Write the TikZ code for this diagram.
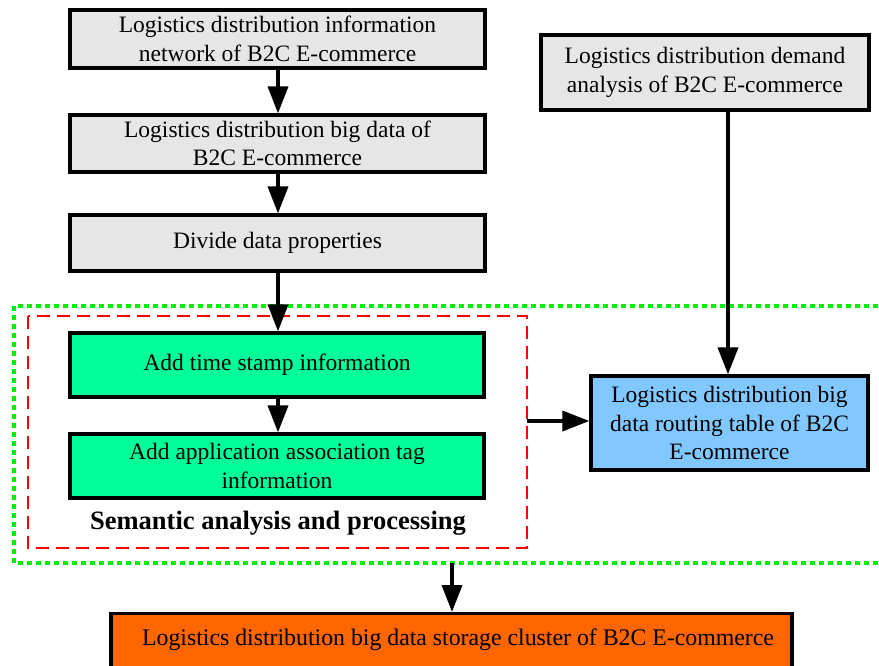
\documentclass[tikz,border=0pt]{standalone}
\usepackage{fontspec}
\setmainfont{Liberation Serif}
\usetikzlibrary{arrows.meta}
\definecolor{boxgray}{HTML}{E6E6E6}
\definecolor{boxgreen}{HTML}{00FF99}
\definecolor{boxblue}{HTML}{80C8FF}
\definecolor{boxorange}{HTML}{FF6600}
\definecolor{dotgreen}{HTML}{00EE00}
\tikzset{
  box/.style={draw=black, line width=3.2pt, align=center, inner sep=0pt,
    font=\fontsize{23.5}{28.5}\selectfont},
  conn/.style={line width=3.6pt, -{Triangle[length=27pt,width=20pt]}},
  redframe/.style={draw=red, line width=1.6pt, dash pattern=on 13pt off 7pt},
  greenframe/.style={draw=dotgreen, line width=3.2pt, dash pattern=on 5pt off 4pt},
}
\begin{document}
\begin{tikzpicture}[x=1pt,y=-1pt]
\useasboundingbox (0,0) rectangle (879,666);
\fill[white] (0,0) rectangle (879,666);
% frames
\draw[greenframe] (14,306) rectangle (900,563);
\draw[redframe] (28,316) rectangle (527,548);
\coordinate (redE) at (527,421);
\coordinate (grnS) at (452,563);
% boxes
\node[box, fill=boxgray, minimum width=415pt, minimum height=58pt] (n1) at (277.5,39) {Logistics distribution information\\network of B2C E-commerce};
\node[box, fill=boxgray, minimum width=415pt, minimum height=57pt] (n2) at (277.5,143.5) {Logistics distribution big data of\\B2C E-commerce};
\node[box, fill=boxgray, minimum width=415pt, minimum height=56pt] (n3) at (277.5,243) {Divide data properties};
\node[box, fill=boxgray, minimum width=328pt, minimum height=75pt] (n4) at (705,72.5) {Logistics distribution demand\\analysis of B2C E-commerce};
\node[box, fill=boxgreen, minimum width=414pt, minimum height=64pt] (n5) at (277,365) {Add time stamp information};
\node[box, fill=boxgreen, minimum width=414pt, minimum height=64pt] (n6) at (277,466) {Add application association tag\\information};
\node[box, fill=boxblue, minimum width=277pt, minimum height=94pt] (n7) at (729.5,423) {Logistics distribution big\\data routing table of B2C\\E-commerce};
\node[box, fill=boxorange, minimum width=681pt, minimum height=80pt, anchor=north] (n8) at (451.5,612) {};
\node[font=\fontsize{23.8}{28.5}\selectfont] (n8t) at (458,640) {Logistics distribution big data storage cluster of B2C E-commerce};
\node[font=\bfseries\fontsize{26.5}{30}\selectfont] (lbl) at (278,523) {Semantic analysis and processing};
% connectors
\draw[conn] (n1.south -| 278,0) -- (n2.north -| 278,0);
\draw[conn] (n2.south -| 278,0) -- (n3.north -| 278,0);
\draw[conn] (n3.south -| 278,0) -- (n5.north -| 278,0);
\draw[conn] (n5.south -| 278,0) -- (n6.north -| 278,0);
\draw[conn] (n4.south -| 728,0) -- (n7.north -| 728,0);
\draw[conn] (redE) -- (n7.west |- redE);
\draw[conn] (grnS) -- (n8.north -| grnS);
\end{tikzpicture}
\end{document}
